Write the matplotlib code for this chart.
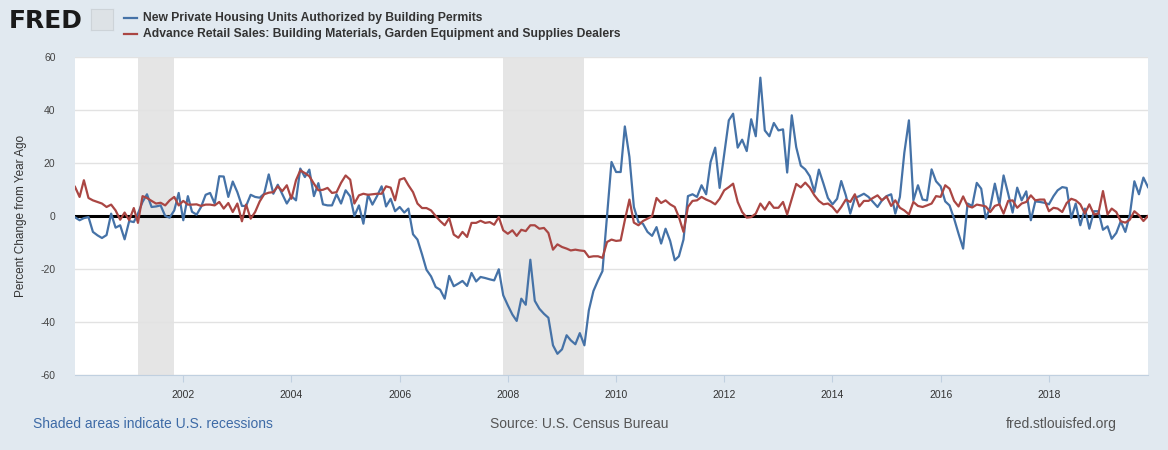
import matplotlib
matplotlib.use("Agg")
import matplotlib.pyplot as plt
import pandas as pd

plt.rcParams['font.family'] = ['Liberation Sans', 'DejaVu Sans']

start_month = "2000-01-01"
permits_yoy = [
    -0.5, -1.6, -0.8, -0.4, -6, -7.3, -8.3, -7.2, 0.9, -4.4, -3.5, -8.8,
    -1.9, -2.3, 0.9, 5.3, 8.2, 3.4, 3.6, 4.0, 0, -0.6, 2.1, 8.7,
    -1.6, 7.5, 1.6, 0.5, 3.4, 8.0, 8.7, 4.7, 15.0, 14.9, 7.2, 13.0,
    9.0, 3.8, 3.8, 8.0, 7.2, 6.9, 8.4, 15.7, 8.4, 11.8, 8.2, 4.7,
    7.5, 5.9, 17.9, 14.7, 17.5, 7.5, 12.4, 4.4, 4.0, 4.0, 8.2, 4.7,
    9.7, 7.4, 0, 4.0, -2.9, 8.0, 4.3, 7.5, 11.2, 3.6, 6.5, 1.8,
    3.4, 1.3, 2.8, -6.9, -8.9, -14.5, -20.3, -22.8, -26.8, -27.8, -31.2, -22.6,
    -26.5, -25.5, -24.5, -26.4, -21.5, -24.7, -23, -23.4, -23.9, -24.3, -20.1, -29.9,
    -33.7, -37.2, -39.6, -31.2, -33.5, -16.5, -32, -35, -36.9, -38.4, -48.8, -52,
    -50.3, -45, -46.9, -48.4, -44.2, -48.8, -35.6, -28.3, -24.3, -20.8, 0, 20.4,
    16.6, 16.6, 33.8, 22.3, 3.4, -2.3, -2.9, -6, -7.5, -4.2, -10.4, -4.8,
    -9.4, -16.7, -15.2, -8.9, 7.5, 8.2, 7.2, 11.6, 8.2, 20.4, 25.8, 10.6,
    23.5, 36.1, 38.6, 25.8, 28.8, 24.5, 36.5, 30.1, 52.2, 32.3, 30.1, 35.1,
    32.3, 32.7, 16.4, 38, 26, 19.0, 17.6, 15, 9.1, 17.5, 12.2, 6.8,
    4.4, 6.5, 13.2, 7.8, 0.9, 6.8, 7.5, 8.4, 7.2, 5.3, 3.4, 5.9,
    7.5, 8.2, 0.9, 7.2, 23.9, 36.1, 5.9, 11.6, 6.2, 5.9, 17.6, 13.1,
    11.2, 5.5, 4.0, -1, -6.7, -12.3, 4.7, 3.8, 12.5, 10.3, -1, 3.4,
    12.2, 4.4, 15.3, 8.4, 1.3, 10.7, 5.9, 9.3, -1.6, 5.5, 5.3, 5.0,
    4.4, 7.5, 9.7, 10.9, 10.6, -0.8, 4.7, -3.5, 2.8, -4.8, 1.8, 1.8,
    -5.2, -3.9, -8.6, -6.4, -2, -6, 0.3, 13.1, 8.2, 14.5, 10.9,
]
retail_yoy = [
    11, 7.2, 13.5, 6.8, 5.9, 5.3, 4.7, 3.4, 4.3, 2.1, -1.4, 1.3,
    -1.6, 3.0, -2.6, 7.5, 6.8, 5.7, 4.7, 5.0, 4.0, 5.9, 7.2, 4.0,
    5.7, 4.3, 4.3, 4.4, 3.8, 4.3, 4.3, 4.0, 5.3, 2.8, 4.9, 1.5,
    4.7, -2.0, 4.3, -1.0, 1.5, 5.5, 8.2, 8.8, 9.0, 11.2, 9.4, 11.6,
    6.5, 13.5, 17.2, 16.2, 15.0, 12.2, 9.7, 9.9, 10.6, 8.7, 9.0, 12.5,
    15.3, 13.7, 4.7, 7.8, 8.4, 8.0, 8.2, 8.4, 8.4, 11.2, 10.7, 5.9,
    13.7, 14.3, 11.6, 9.0, 4.7, 3.0, 3.0, 2.1, 0, -1.9, -3.5, -0.8,
    -7, -8.2, -6, -7.9, -2.6, -2.6, -1.8, -2.6, -2.3, -3.3, -0.4, -5.4,
    -6.7, -5.4, -7.5, -5.2, -5.7, -3.5, -3.5, -4.8, -4.5, -6.4, -12.7, -10.7,
    -11.7, -12.3, -13, -12.7, -13, -13.2, -15.5, -15.2, -15.2, -15.8, -9.8, -8.9,
    -9.4, -9.2, -1.6, 6.2, -2.5, -3.5, -1.9, -1, -0.1, 6.8, 4.9, 5.9,
    4.4, 3.4, -0.4, -6, 3.4, 5.7, 5.9, 7.2, 6.2, 5.5, 4.4, 6.5,
    9.7, 10.9, 12.2, 5.3, 1.5, -0.6, -0.4, 0.9, 4.7, 2.4, 5.3, 3.1,
    3.1, 5.3, 0.6, 6.5, 12.1, 10.8, 12.6, 10.7, 7.8, 5.7, 4.4, 4.7,
    3.4, 1.3, 3.4, 6.2, 5.3, 8.2, 3.6, 5.7, 5.7, 6.8, 7.8, 5.9,
    7.4, 3.8, 5.9, 3.1, 2.1, 0.6, 5.3, 3.8, 3.4, 4.0, 4.7, 7.5,
    7.2, 11.6, 10.3, 5.7, 3.6, 7.4, 3.8, 3.2, 4.3, 4.0, 3.6, 1.5,
    3.8, 4.4, 0.9, 5.7, 5.9, 3.1, 4.7, 5.3, 7.8, 5.9, 6.2, 6.2,
    1.8, 3.1, 2.8, 1.5, 4.9, 6.5, 5.9, 4.4, 0.9, 4.4, 0.6, 0.9,
    9.4, 0.6, 2.8, 1.5, -2, -2.5, -1.4, 1.8, 0.3, -1.9, 0,
]
recessions = [("2001-03-01", "2001-11-01"), ("2007-12-01", "2009-06-01")]
series_names = ["New Private Housing Units Authorized by Building Permits",
                "Advance Retail Sales: Building Materials, Garden Equipment and Supplies Dealers"]
series_colors = ["#4572a7", "#aa4643"]
y_ticks = [-60, -40, -20, 0, 20, 40, 60]
x_tick_years = [2002, 2004, 2006, 2008, 2010, 2012, 2014, 2016, 2018]

dates = pd.date_range(start_month, periods=len(permits_yoy), freq="MS")

bg = "#e1e9f0"
fig = plt.figure(figsize=(11.68, 4.5), dpi=100, facecolor=bg)
ax = fig.add_axes([75/1168, 1 - 375/450, (1148-75)/1168, (375-57)/450])
ax.set_facecolor("white")

for s, e in recessions:
    ax.axvspan(pd.Timestamp(s), pd.Timestamp(e), color="#e5e5e5", zorder=0, lw=0)

for yv in y_ticks:
    if yv != 0:
        ax.axhline(yv, color="#e2e2e2", lw=1, zorder=1)
ax.axhline(0, color="black", lw=2.2, zorder=2)

ax.plot(dates, permits_yoy, color=series_colors[0], lw=1.6, zorder=3)
ax.plot(dates, retail_yoy, color=series_colors[1], lw=1.6, zorder=4)

ax.set_xlim(dates[0], dates[-1])
ax.set_ylim(-60, 60)
ax.set_yticks(y_ticks)
ax.set_yticklabels([str(v) for v in y_ticks], fontsize=7.5, color="#444444")
ax.set_xticks([pd.Timestamp(f"{y}-01-01") for y in x_tick_years])
ax.set_xticklabels([str(y) for y in x_tick_years], fontsize=7.5, color="#333333")
ax.tick_params(axis="y", length=0, pad=14)
ax.tick_params(axis="x", length=5, color="#c0d0e0", pad=6)
for sp in ["top", "right", "left"]:
    ax.spines[sp].set_visible(False)
ax.spines["bottom"].set_color("#c0d0e0")
ax.set_ylabel("Percent Change from Year Ago", fontsize=8.5, color="#333333", labelpad=10)

# Header: FRED logo and legend
fig.text(9/1168, 1 - 21/450, "FRED", fontsize=18, fontweight="bold", color="#1a1a1a",
         va="center", ha="left", family="DejaVu Sans")
logo = fig.add_axes([91/1168, 1 - 30/450, 22/1168, 21/450])
logo.set_facecolor("#dde2e6")
logo.set_xticks([]); logo.set_yticks([])
for sp in logo.spines.values():
    sp.set_color("#cdd3d8")

for i, (name, col) in enumerate(zip(series_names, series_colors)):
    yy = 1 - (18 + 16*i)/450
    fig.add_artist(plt.Line2D([124/1168, 137/1168], [yy, yy], color=col, lw=1.6,
                              transform=fig.transFigure))
    fig.text(143/1168, yy, name, fontsize=8.7, color="#333333", va="center", ha="left",
             fontweight="bold")

# Footer
fig.text(33/1168, 1 - 424/450, "Shaded areas indicate U.S. recessions", fontsize=10,
         color="#3d6aa6", va="center", ha="left")
fig.text(490/1168, 1 - 424/450, "Source: U.S. Census Bureau", fontsize=10,
         color="#555555", va="center", ha="left")
fig.text(1117/1168, 1 - 424/450, "fred.stlouisfed.org", fontsize=10,
         color="#555555", va="center", ha="right")

fig.savefig("out.png", dpi=100, facecolor=bg)
